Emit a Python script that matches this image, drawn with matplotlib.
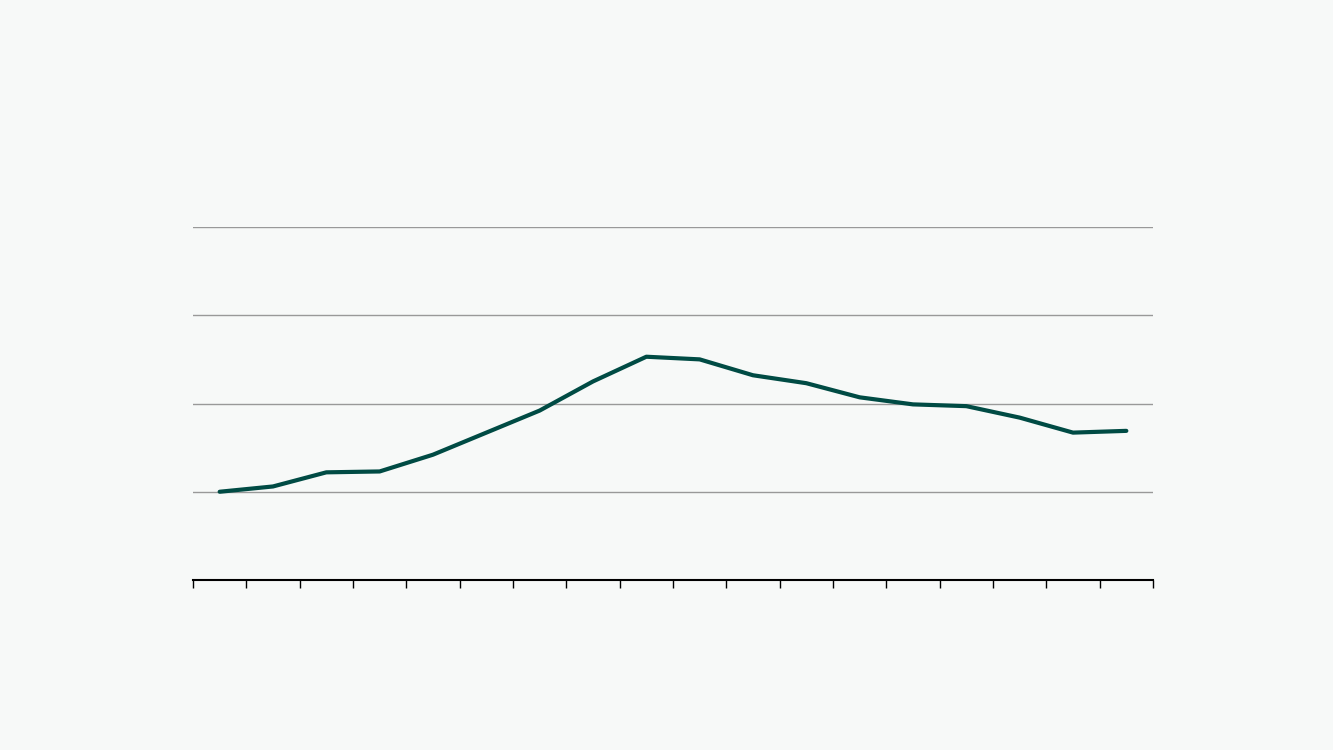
import numpy as np
import matplotlib.pyplot as plt

# values (gridlines at 1, 2, 3, 4)
values = [1.00, 1.06, 1.22, 1.23, 1.42, 1.67, 1.92, 2.25, 2.53,
          2.50, 2.32, 2.23, 2.07, 1.99, 1.97, 1.84, 1.67, 1.69]
y_grid = [1, 2, 3, 4]

bg = '#f7f9f8'
line_color = '#004b44'

fig = plt.figure(figsize=(13.33, 7.5), dpi=100, facecolor=bg)
ax = fig.add_axes([193 / 1333, 1 - 580 / 750, (1153 - 193) / 1333, (580 - 227) / 750])
ax.set_facecolor(bg)

n = len(values)
x = np.arange(n) + 0.5
ax.plot(x, values, color=line_color, lw=3, solid_capstyle='round', zorder=3)

ax.set_xlim(0, n)
ax.set_ylim(0, 4)
ax.set_xticks(np.arange(n + 1))
ax.set_xticklabels([])
ax.set_yticks(y_grid)
ax.set_yticklabels([])
ax.tick_params(axis='x', direction='out', length=6, width=1, color='black')
ax.tick_params(axis='y', length=0)
ax.grid(axis='y', color='#999999', lw=1)
ax.set_axisbelow(True)

for s in ['top', 'right', 'left']:
    ax.spines[s].set_visible(False)
ax.spines['bottom'].set_color('black')
ax.spines['bottom'].set_linewidth(1.5)
ax.spines['bottom'].set_zorder(4)

fig.savefig('out.png', dpi=100, facecolor=bg)
